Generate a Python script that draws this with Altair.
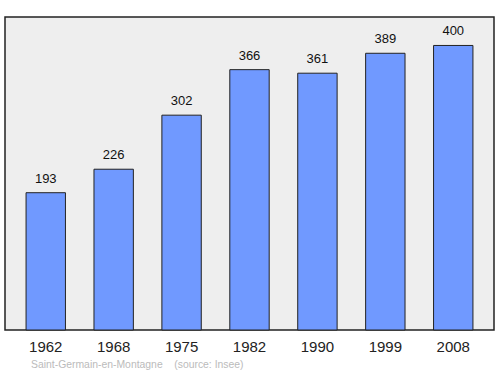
import altair as alt
import pandas as pd

years = ["1962", "1968", "1975", "1982", "1990", "1999", "2008"]
population = [193, 226, 302, 366, 361, 389, 400]

df = pd.DataFrame({"year": years, "pop": population})

x = alt.X("year:N", sort=years, title=None,
          scale=alt.Scale(paddingInner=0.42, paddingOuter=0.31),
          axis=alt.Axis(labelAngle=0, ticks=False, domain=False, labelFontSize=15,
                        labelFont="Liberation Sans", labelColor="#222222",
                        labelFontWeight="normal",
                        labelPadding=16, labelBaseline="middle", grid=False))
y = alt.Y("pop:Q", title=None, scale=alt.Scale(domain=[0, 440], nice=False),
          axis=None)

bars = alt.Chart(df).mark_bar(color="#7099ff", stroke="#222222", strokeWidth=1).encode(x=x, y=y)
labels = alt.Chart(df).mark_text(dy=-14, fontSize=13, font="Liberation Sans",
                                 color="#111111").encode(x=x, y=y, text="pop:Q")

chart = (bars + labels).properties(
    width=489, height=313,
    title=alt.TitleParams(
        text="Saint-Germain-en-Montagne\u00a0\u00a0\u00a0\u00a0(source: Insee)",
        orient="bottom", anchor="start", fontSize=10.4, fontWeight="normal",
        font="Liberation Sans", color="#bbbbbb", dx=26, offset=6),
    autosize=alt.AutoSizeParams(type="none"),
    padding={"left": 5, "top": 17, "right": 6, "bottom": 44},
    background="white",
).configure_view(fill="#eeeeee", stroke="#222222", strokeWidth=1.5)

chart.save("out.html", embed_options={"renderer": "svg", "actions": False})
